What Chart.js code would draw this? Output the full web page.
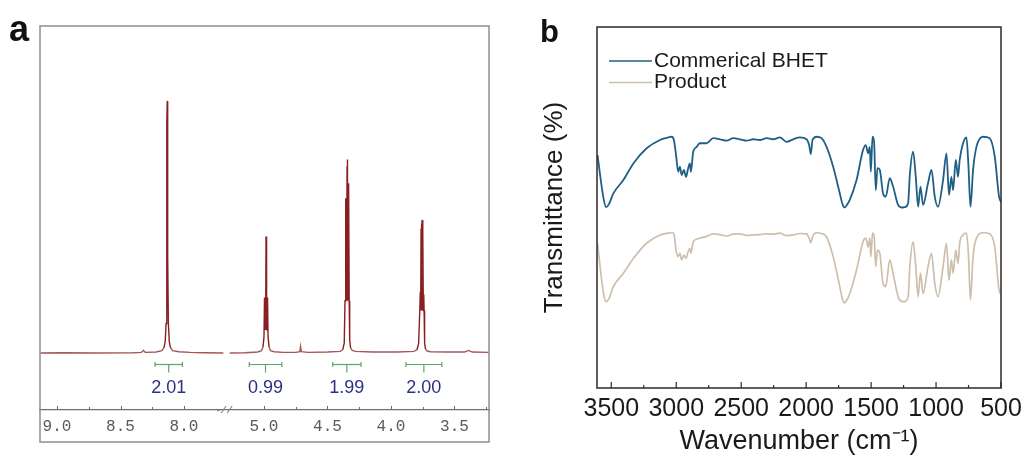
<!DOCTYPE html>
<html>
<head>
<meta charset="utf-8">
<script src="https://cdn.jsdelivr.net/npm/chart.js@4.4.1/dist/chart.umd.min.js"></script>
<style>
  html, body { margin: 0; padding: 0; background: #ffffff; }
  #wrap { position: relative; width: 1025px; height: 457px; overflow: hidden; }
  #ca { position: absolute; left: 0; top: 0; }
  #cb { position: absolute; left: 510px; top: 0; }
</style>
</head>
<body>
<div id="wrap">
  <canvas id="ca" width="510" height="457"></canvas>
  <canvas id="cb" width="515" height="457"></canvas>
</div>
<script>
// ---------- (a) 1H NMR spectrum, two windows joined by an axis break ----------
// Low-field window (aromatic region), chemical shift in ppm and intensity
const nmrLowPpm = [9.13, 8.95, 8.70, 8.40, 8.335, 8.32, 8.305, 8.22, 8.175, 8.158, 8.148, 8.141, 8.137, 8.134,
                   8.132, 8.130, 8.127, 8.123, 8.116, 8.106, 8.09, 8.04, 7.95, 7.85, 7.69];
const nmrLowInt = [0, 0.1, 0, 0.1, 0.2, 0.8, 0.2, 0.3, 0.7, 1.6, 3.5, 9, 30, 70,
                   77.1, 70, 30, 9, 3.5, 1.6, 0.7, 0.4, 0.2, 0.1, 0];
// High-field window (aliphatic region)
const nmrHighPpm = [5.27, 5.15, 5.05, 5.02, 5.008, 5.000, 4.996, 4.993, 4.990, 4.987, 4.984, 4.981, 4.978,
                    4.975, 4.972, 4.968, 4.960, 4.948,
                    4.92, 4.85, 4.75, 4.718, 4.712, 4.706, 4.65, 4.50, 4.40, 4.38, 4.368, 4.362, 4.358, 4.355,
                    4.352, 4.349, 4.346, 4.344, 4.341, 4.338, 4.335, 4.332, 4.329, 4.325, 4.318, 4.305, 4.28,
                    4.15, 3.95, 3.82, 3.795, 3.782, 3.773, 3.769, 3.766, 3.763, 3.760, 3.757, 3.754, 3.751,
                    3.748, 3.745, 3.742, 3.739, 3.735, 3.728, 3.715, 3.69, 3.55, 3.42, 3.39, 3.36, 3.23];
const nmrHighInt = [0, 0.1, 0.3, 0.7, 1.8, 5, 17, 7, 17, 7, 35.6, 7, 17,
                    7, 17, 5, 1.8, 0.7,
                    0.4, 0.2, 0.2, 0.4, 2.0, 0.4, 0.2, 0.3, 0.5, 1, 3, 16, 47.3, 16,
                    46, 16, 57, 59.2, 16, 50, 16, 51.9, 16, 4, 1.5, 0.8, 0.5,
                    0.3, 0.3, 0.5, 1, 3, 13, 18.7, 13, 38, 13, 39, 40.7, 13,
                    37, 13, 18, 13, 3, 1.2, 0.6, 0.4, 0.3, 0.3, 0.8, 0.3, 0.2];
// Integration regions (ppm) and integral values
const integralFrom = [8.228, 5.116, 4.459, 3.882];
const integralTo   = [8.013, 4.860, 4.236, 3.600];
const integralVal  = [2.01, 0.99, 1.99, 2.00];
// Axis ticks in each window (ppm)
const nmrTicksLow  = [9.0, 8.75, 8.5, 8.25, 8.0];
const nmrTicksHigh = [5.0, 4.75, 4.5, 4.25, 4.0, 3.75, 3.5, 3.25];

// The high-field window is shifted onto a continuous axis right after the break
const BREAK_SHIFT = 2.37;      // ppm added to high-field values
const BREAK_AT = 7.66;         // axis value where the break is drawn
const toAxis = p => p + BREAK_SHIFT;
const fromAxis = v => (v > BREAK_AT ? v : v - BREAK_SHIFT);

// ---------- (b) FTIR spectra ----------
const irWavenumber = [3606, 3560, 3540, 3520, 3484, 3407, 3330, 3228, 3125, 3061, 3035, 3018, 3002, 2985, 2972,
  2958, 2941, 2925, 2908, 2895, 2887, 2869, 2843, 2818, 2766, 2715, 2664, 2612, 2562, 2510, 2458, 2408, 2356,
  2305, 2254, 2202, 2151, 2100, 2048, 1997, 1977, 1964, 1951, 1920, 1882, 1843, 1792, 1741, 1720, 1705, 1688,
  1664, 1612, 1562, 1541, 1523, 1510, 1502, 1489, 1477, 1464, 1451, 1433, 1408, 1387, 1356, 1331, 1292, 1265,
  1241, 1215, 1202, 1177, 1156, 1138, 1120, 1100, 1062, 1035, 1010, 985, 946, 920, 900, 882, 869, 848, 831,
  818, 792, 766, 751, 735, 715, 689, 638, 587, 548, 515, 500];
const bhetT = [64.5, 52.6, 50.1, 50.8, 53.9, 57.6, 62.2, 66.4, 68.7, 69.4, 69.6, 68.7, 64.7, 59.9, 61.3,
  59.0, 60.4, 58.5, 60.9, 62.2, 59.9, 65.5, 66.8, 67.8, 67.8, 69.2, 68.9, 68.5, 69.2, 68.9, 68.5, 68.9, 68.7,
  69.2, 68.9, 69.4, 68.2, 68.9, 69.4, 68.9, 67.3, 64.8, 68.7, 69.6, 69.2, 66.8, 61.3, 53.9, 50.9, 50.0, 50.6,
  52.1, 57.6, 65.9, 67.3, 65.0, 66.8, 59.9, 69.6, 68.2, 54.8, 60.9, 60.4, 53.9, 53.0, 58.1, 55.8, 50.7, 50.0,
  50.1, 51.2, 59.0, 65.5, 58.5, 50.2, 55.8, 50.7, 56.7, 60.4, 53.0, 50.2, 57.6, 65.0, 53.5, 58.5, 54.8, 63.2, 58.5,
  63.2, 67.8, 69.4, 61.8, 50.2, 60.4, 66.8, 69.6, 69.2, 64.1, 53.0, 51.5];
const productT = [40.1, 26.2, 23.9, 24.6, 28.1, 31.8, 35.9, 40.1, 42.4, 42.9, 43.0, 42.7, 38.2, 36.4, 37.3,
  35.5, 36.8, 35.9, 37.8, 38.7, 37.3, 40.5, 41.2, 41.5, 42.0, 42.7, 42.5, 42.1, 42.6, 42.7, 42.3, 42.4, 42.5,
  42.7, 42.6, 42.9, 42.2, 42.4, 42.8, 42.7, 41.5, 40.2, 41.9, 43.0, 42.8, 41.9, 36.4, 28.1, 24.6, 23.6, 24.3,
  26.2, 32.7, 40.5, 41.5, 39.1, 41.5, 36.4, 42.9, 42.1, 33.6, 38.2, 37.3, 29.0, 28.1, 35.5, 31.8, 25.3, 24.0,
  23.9, 25.3, 33.6, 40.5, 33.6, 25.3, 31.8, 26.2, 33.6, 37.3, 29.0, 25.3, 33.6, 40.1, 29.9, 35.5, 31.8, 38.2, 34.5,
  40.1, 42.4, 42.9, 37.3, 24.4, 36.4, 41.5, 43.0, 42.7, 39.1, 27.1, 26.0];
const irTicks = [500, 750, 1000, 1250, 1500, 1750, 2000, 2250, 2500, 2750, 3000, 3250, 3500];
const irSeriesNames = ['Commerical BHET', 'Product'];

// ---------- shared helpers ----------
function line(ctx, x1, y1, x2, y2) {
  ctx.beginPath(); ctx.moveTo(x1, y1); ctx.lineTo(x2, y2); ctx.stroke();
}
const SANS = '"Liberation Sans", Arial, sans-serif';
// NMR trace: darker where the signal rises above the baseline
const nmrSegmentColor = c => (Math.max(c.p0.parsed.y, c.p1.parsed.y) > 2.5 ? '#891f22' : '#a65656');

// ---------- chart (a) ----------
const nmrDecor = {
  id: 'nmrDecor',
  afterDraw(chart) {
    const { ctx, chartArea: ca, scales: { x, y } } = chart;
    ctx.save();
    // frame around the panel
    ctx.strokeStyle = '#8f8f8f';
    ctx.lineWidth = 1.5;
    ctx.strokeRect(ca.left, ca.top, ca.right - ca.left, chart.height - 15 - ca.top);
    // inward ticks along the axis
    ctx.strokeStyle = '#6a6a6a';
    ctx.lineWidth = 1;
    x.ticks.forEach(t => {
      const px = Math.round(x.getPixelForValue(t.value)) + 0.5;
      const major = Math.abs(fromAxis(t.value) * 2 - Math.round(fromAxis(t.value) * 2)) < 1e-6;
      line(ctx, px, ca.bottom, px, ca.bottom - (major ? 4 : 3));
    });
    // axis break marks
    const bx = x.getPixelForValue(BREAK_AT);
    ctx.strokeStyle = '#808080';
    ctx.lineWidth = 1.1;
    line(ctx, bx - 10, ca.bottom + 1, bx - 7, ca.bottom);
    line(ctx, bx - 6, ca.bottom + 3, bx - 1, ca.bottom - 4);
    line(ctx, bx, ca.bottom + 3, bx + 5, ca.bottom - 4);
    // integration brackets and values
    const yb = Math.round(y.getPixelForValue(-3.4)) + 0.5;
    integralFrom.forEach((from, i) => {
      const isLow = from > 6;
      const a = x.getPixelForValue(isLow ? from : toAxis(from));
      const b = x.getPixelForValue(isLow ? integralTo[i] : toAxis(integralTo[i]));
      const mid = (a + b) / 2;
      ctx.strokeStyle = '#58a866';
      ctx.lineWidth = 1.2;
      line(ctx, a, yb, b, yb);
      line(ctx, a, yb - 2.5, a, yb + 2.5);
      line(ctx, b, yb - 2.5, b, yb + 2.5);
      line(ctx, mid, yb, mid, yb + 8);
      ctx.fillStyle = '#2b3180';
      ctx.font = '18px ' + SANS;
      ctx.textAlign = 'center';
      ctx.textBaseline = 'middle';
      ctx.fillText(integralVal[i].toFixed(2), mid, yb + 24);
    });
    // panel letter
    ctx.fillStyle = '#111111';
    ctx.font = 'bold 36px ' + SANS;
    ctx.textAlign = 'left';
    ctx.textBaseline = 'alphabetic';
    ctx.fillText('a', 9, 41);
    ctx.restore();
  }
};

new Chart(document.getElementById('ca'), {
  type: 'line',
  data: {
    datasets: [
      {
        data: nmrLowPpm.map((p, i) => ({ x: p, y: nmrLowInt[i] })),
        borderColor: '#a65656', borderWidth: 1.4, pointRadius: 0, tension: 0,
        segment: { borderColor: nmrSegmentColor }
      },
      {
        data: nmrHighPpm.map((p, i) => ({ x: toAxis(p), y: nmrHighInt[i] })),
        borderColor: '#a65656', borderWidth: 1.4, pointRadius: 0, tension: 0,
        segment: { borderColor: nmrSegmentColor }
      }
    ]
  },
  options: {
    responsive: false,
    animation: false,
    devicePixelRatio: 1,
    layout: { padding: { left: 40, right: 21, top: 26, bottom: 0 } },
    plugins: { legend: { display: false }, tooltip: { enabled: false } },
    scales: {
      x: {
        type: 'linear',
        reverse: true,
        min: toAxis(3.228),
        max: 9.134,
        afterBuildTicks: scale => {
          scale.ticks = nmrTicksHigh.map(toAxis).concat(nmrTicksLow).sort((p, q) => p - q)
            .map(v => ({ value: v }));
        },
        afterFit: scale => { scale.height = 47; },
        grid: { display: true, drawOnChartArea: false, drawTicks: false },
        border: { display: true, color: '#707070', width: 1.2 },
        ticks: {
          autoSkip: false,
          maxRotation: 0,
          padding: 9,
          color: '#5a5a5a',
          font: { family: '"Liberation Mono", "DejaVu Sans Mono", monospace', size: 16, lineHeight: 1 },
          callback: v => {
            const p = fromAxis(v);
            return Math.abs(p * 2 - Math.round(p * 2)) < 1e-6 ? p.toFixed(1) : '';
          }
        }
      },
      y: { display: false, min: -17.43, max: 100 }
    }
  },
  plugins: [nmrDecor]
});

// ---------- chart (b) ----------
const irDecor = {
  id: 'irDecor',
  afterDraw(chart) {
    const { ctx, chartArea: ca, scales: { x } } = chart;
    ctx.save();
    ctx.strokeStyle = '#2a2a2a';
    ctx.lineWidth = 1.5;
    ctx.strokeRect(ca.left, ca.top, ca.right - ca.left, ca.bottom - ca.top);
    ctx.lineWidth = 1.2;
    x.ticks.forEach(t => {
      const px = x.getPixelForValue(t.value);
      line(ctx, px, ca.bottom, px, ca.bottom - (t.value % 500 === 0 ? 6 : 3));
    });
    // legend inside the frame
    chart.data.datasets.forEach((ds, i) => {
      const yy = 61 + i * 21.5;
      ctx.strokeStyle = ds.borderColor;
      ctx.lineWidth = 1.6;
      line(ctx, 99, yy, 142, yy);
      ctx.fillStyle = '#1a1a1a';
      ctx.font = '21px ' + SANS;
      ctx.textAlign = 'left';
      ctx.textBaseline = 'middle';
      ctx.fillText(ds.label, 144, yy);
    });
    ctx.fillStyle = '#111111';
    ctx.font = 'bold 31px ' + SANS;
    ctx.textBaseline = 'alphabetic';
    ctx.fillText('b', 30, 42);
    ctx.restore();
  }
};

new Chart(document.getElementById('cb'), {
  type: 'line',
  data: {
    datasets: [
      {
        label: irSeriesNames[0],
        data: irWavenumber.map((w, i) => ({ x: w, y: bhetT[i] })),
        borderColor: '#1f5f85', borderWidth: 1.8, pointRadius: 0, cubicInterpolationMode: 'monotone'
      },
      {
        label: irSeriesNames[1],
        data: irWavenumber.map((w, i) => ({ x: w, y: productT[i] })),
        borderColor: '#cdbfab', borderWidth: 1.7, pointRadius: 0, cubicInterpolationMode: 'monotone'
      }
    ]
  },
  options: {
    responsive: false,
    animation: false,
    devicePixelRatio: 1,
    layout: { padding: { left: 0, right: 24, top: 27, bottom: 0 } },
    plugins: { legend: { display: false }, tooltip: { enabled: false } },
    scales: {
      x: {
        type: 'linear',
        reverse: true,
        min: 500,
        max: 3610,
        afterBuildTicks: scale => { scale.ticks = irTicks.map(v => ({ value: v })); },
        afterFit: scale => { scale.height = 69; },
        grid: { display: false },
        border: { display: false },
        ticks: {
          autoSkip: false,
          maxRotation: 0,
          padding: 1,
          color: '#1a1a1a',
          font: { family: SANS, size: 25, lineHeight: 1 },
          callback: v => (v % 500 === 0 ? String(v) : '')
        },
        title: {
          display: true,
          text: 'Wavenumber (cm\u207B\u00B9)',
          color: '#1a1a1a',
          font: { family: SANS, size: 27, lineHeight: 1 },
          padding: { top: 0, bottom: 2 }
        }
      },
      y: {
        min: 0,
        max: 100,
        afterFit: scale => { scale.width = 87; },
        grid: { display: false },
        border: { display: false },
        ticks: { display: false },
        title: {
          display: true,
          text: 'Transmittance (%)',
          color: '#1a1a1a',
          font: { family: SANS, size: 26, lineHeight: 1 },
          padding: { top: 32, bottom: 0 }
        }
      }
    }
  },
  plugins: [irDecor]
});
</script>
</body>
</html>
